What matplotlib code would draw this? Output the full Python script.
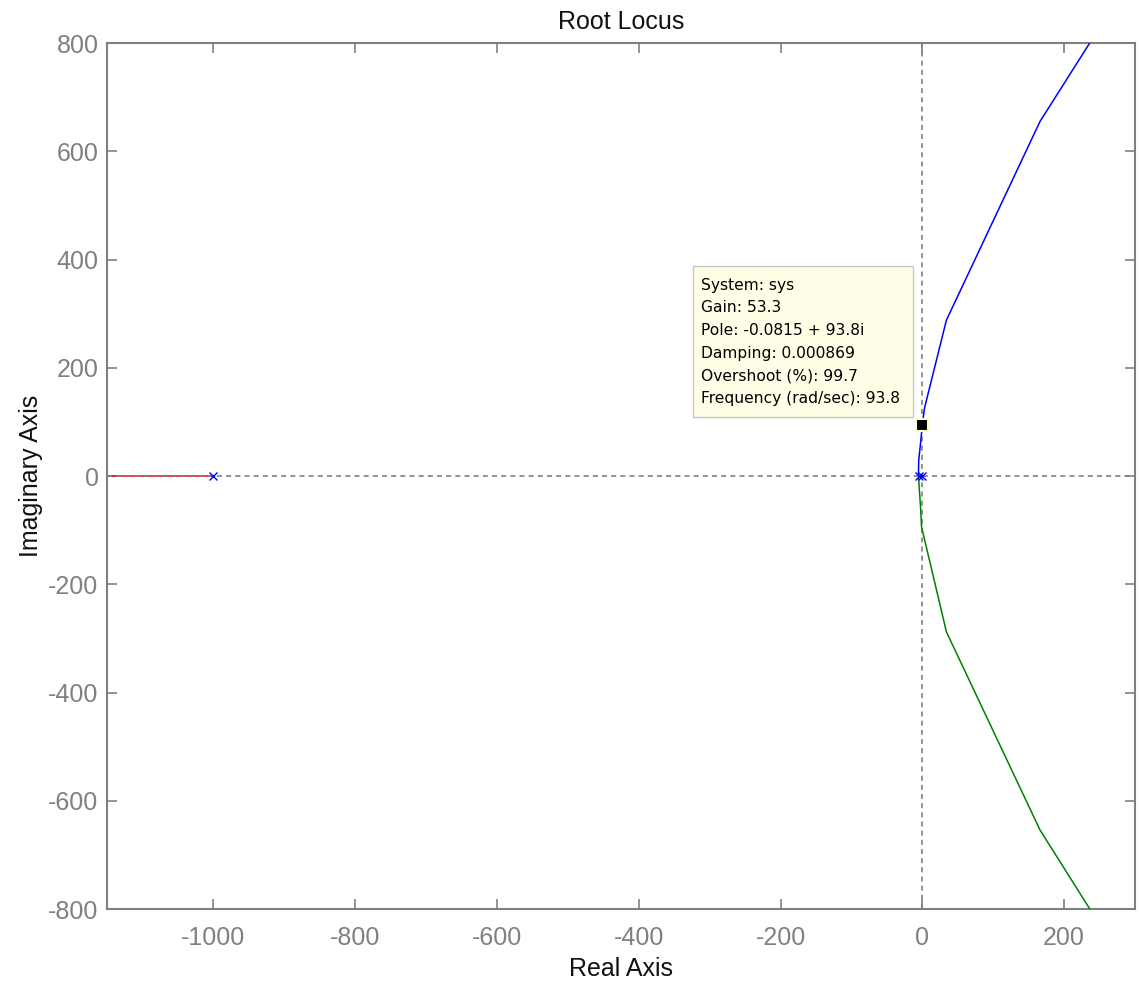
import numpy as np
import matplotlib
matplotlib.use('Agg')
import matplotlib.pyplot as plt
from matplotlib.patches import Rectangle
from matplotlib.transforms import IdentityTransform

plt.rcParams['font.family'] = ['Liberation Sans', 'DejaVu Sans']
plt.rcParams['axes.unicode_minus'] = False

# root locus branches (real, imag)
blue_re = [0, -5.5, -5, -2.5, -0.08, 3, 34, 166, 270]
blue_im = [0, 0, 30, 60, 93.8, 125, 288, 655, 870]
green_re = [-5, -5.5, -2.5, -1.1, 34, 166, 270]
green_im = [0, 0, -57, -93.7, -288, -654, -870]
red_re = [-1000, -1200]
red_im = [0, 0]

poles_re = [-1000, -5, 0]
poles_im = [0, 0, 0]

sel_re, sel_im = -0.0815, 93.8
tip_lines = ['System: sys', 'Gain: 53.3', 'Pole: -0.0815 + 93.8i',
             'Damping: 0.000869', 'Overshoot (%): 99.7',
             'Frequency (rad/sec): 93.8']

xticks = [-1000, -800, -600, -400, -200, 0, 200]
yticks = [-800, -600, -400, -200, 0, 200, 400, 600, 800]

fig = plt.figure(figsize=(11.39, 9.84), dpi=100)
ax = fig.add_axes([0.0939, 0.0762, 0.9026, 0.8801])

ax.plot(red_re, red_im, color='#FF0000', lw=1.1, zorder=2)
ax.plot(blue_re, blue_im, color='#0000FF', lw=1.1, zorder=3)
ax.plot(green_re, green_im, color='#008000', lw=1.1, zorder=3)
ax.axhline(0, color='#808080', lw=1.2, ls=(0, (3, 2.5)), zorder=4)
ax.axvline(0, color='#808080', lw=1.2, ls=(0, (3, 2.5)), zorder=1)
ax.plot(poles_re, poles_im, 'x', color='#0000FF', ms=6, mew=1.0, zorder=5)

ax.set_xlim(-1150, 300)
ax.set_ylim(-800, 800)
ax.set_xticks(xticks)
ax.set_yticks(yticks)

for s in ax.spines.values():
    s.set_color('#808080')
    s.set_linewidth(1.5)
ax.tick_params(direction='in', length=7.2, width=1.2, color='#808080',
               labelcolor='#808080', labelsize=18, top=True, right=True)
ax.tick_params(axis='x', pad=12)
ax.tick_params(axis='y', pad=6)

ax.set_title('Root Locus', fontsize=18, color='#111111', pad=10)
ax.set_xlabel('Real Axis', fontsize=18, color='#111111', labelpad=5)
ax.set_ylabel('Imaginary Axis', fontsize=18, color='#111111', labelpad=4)

# data tip
ax.plot([sel_re], [sel_im], 's', color='black', ms=9, mec='#FFFFCC', mew=1.5, zorder=8)
fig.canvas.draw()
px, py = ax.transData.transform((sel_re, sel_im))
box = Rectangle((px - 229, py + 8), 220, 151, transform=IdentityTransform(),
                facecolor='#FFFFE8', edgecolor='#C8C8C8', lw=1.0, zorder=6)
ax.add_artist(box)
for i, line in enumerate(tip_lines):
    ax.annotate(line, xy=(sel_re, sel_im), xytext=(-221.5, 140 - 22.7 * i),
                textcoords='offset pixels', ha='left', va='center',
                fontsize=11.2, family='DejaVu Sans', color='#000000', zorder=7)

fig.savefig('out.png', dpi=100)
